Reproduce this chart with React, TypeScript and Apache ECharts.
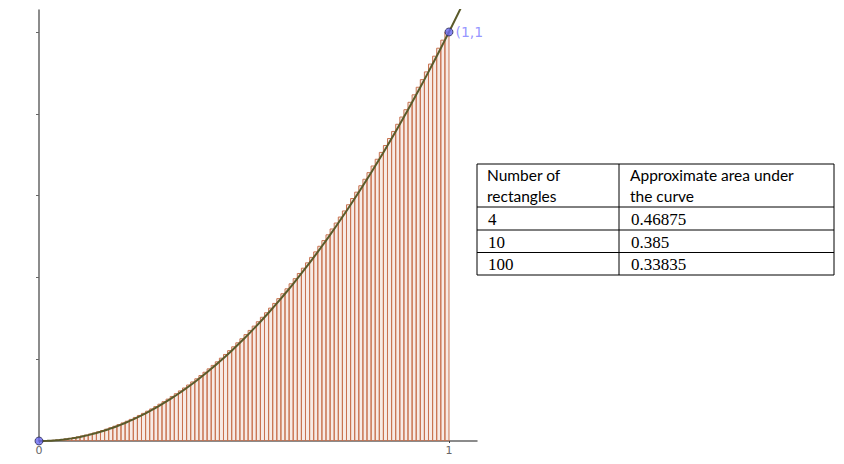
import React, { useEffect, useRef } from "react";
import * as echarts from "echarts";

// Right endpoints of the 100 rectangles on [0, 1]
const rectRight = [
  0.01, 0.02, 0.03, 0.04, 0.05, 0.06, 0.07, 0.08, 0.09, 0.1,
  0.11, 0.12, 0.13, 0.14, 0.15, 0.16, 0.17, 0.18, 0.19, 0.2,
  0.21, 0.22, 0.23, 0.24, 0.25, 0.26, 0.27, 0.28, 0.29, 0.3,
  0.31, 0.32, 0.33, 0.34, 0.35, 0.36, 0.37, 0.38, 0.39, 0.4,
  0.41, 0.42, 0.43, 0.44, 0.45, 0.46, 0.47, 0.48, 0.49, 0.5,
  0.51, 0.52, 0.53, 0.54, 0.55, 0.56, 0.57, 0.58, 0.59, 0.6,
  0.61, 0.62, 0.63, 0.64, 0.65, 0.66, 0.67, 0.68, 0.69, 0.7,
  0.71, 0.72, 0.73, 0.74, 0.75, 0.76, 0.77, 0.78, 0.79, 0.8,
  0.81, 0.82, 0.83, 0.84, 0.85, 0.86, 0.87, 0.88, 0.89, 0.9,
  0.91, 0.92, 0.93, 0.94, 0.95, 0.96, 0.97, 0.98, 0.99, 1.0,
];

// Heights of the rectangles (right-endpoint heights of y = x²)
const rectHeight = [
  0.0001, 0.0004, 0.0009, 0.0016, 0.0025, 0.0036, 0.0049, 0.0064, 0.0081, 0.01,
  0.0121, 0.0144, 0.0169, 0.0196, 0.0225, 0.0256, 0.0289, 0.0324, 0.0361, 0.04,
  0.0441, 0.0484, 0.0529, 0.0576, 0.0625, 0.0676, 0.0729, 0.0784, 0.0841, 0.09,
  0.0961, 0.1024, 0.1089, 0.1156, 0.1225, 0.1296, 0.1369, 0.1444, 0.1521, 0.16,
  0.1681, 0.1764, 0.1849, 0.1936, 0.2025, 0.2116, 0.2209, 0.2304, 0.2401, 0.25,
  0.2601, 0.2704, 0.2809, 0.2916, 0.3025, 0.3136, 0.3249, 0.3364, 0.3481, 0.36,
  0.3721, 0.3844, 0.3969, 0.4096, 0.4225, 0.4356, 0.4489, 0.4624, 0.4761, 0.49,
  0.5041, 0.5184, 0.5329, 0.5476, 0.5625, 0.5776, 0.5929, 0.6084, 0.6241, 0.64,
  0.6561, 0.6724, 0.6889, 0.7056, 0.7225, 0.7396, 0.7569, 0.7744, 0.7921, 0.81,
  0.8281, 0.8464, 0.8649, 0.8836, 0.9025, 0.9216, 0.9409, 0.9604, 0.9801, 1.0,
];

// Curve continues a little past (1,1) until it leaves the plot
const curveExtraX = [1.03];
const curveExtraY = [1.0609];

const pointsX = [0, 1];
const pointsY = [0, 1];
const pointLabels = ["", "(1,1"];

const yTicks = [0.2, 0.4, 0.6, 0.8, 1.0];
const xTickLabels = [0, 1];

const tableHeader = [
  ["Number of", "rectangles"],
  ["Approximate area under", "the curve"],
];
const tableRects = ["4", "10", "100"];
const tableAreas = ["0.46875", "0.385", "0.33835"];

export default function App() {
  const ref = useRef<HTMLDivElement>(null);

  useEffect(() => {
    if (!ref.current) return;
    const chart = echarts.init(ref.current, undefined, { renderer: "svg" });

    const step = 1 / rectRight.length;
    const rectData = rectRight.map((x, i) => [x, rectHeight[i]]);
    const curveData = [[0, 0], ...rectData, ...curveExtraX.map((x, i) => [x, curveExtraY[i]])];
    const pointData = pointsX.map((x, i) => ({
      value: [x, pointsY[i]],
      label: { show: pointLabels[i] !== "", formatter: pointLabels[i] },
    }));

    // Table geometry
    const tL = 477, tR = 834, tT = 164, colX = 619;
    const rowLines = [164, 207, 230, 252.5, 275];
    const graphics: any[] = [];
    graphics.push({
      type: "rect",
      shape: { x: tL, y: tT, width: tR - tL, height: rowLines[4] - tT },
      style: { fill: "#fff", stroke: "#000", lineWidth: 1 },
      z: 100,
    });
    for (let i = 1; i < 4; i++) {
      graphics.push({
        type: "line",
        shape: { x1: tL, y1: rowLines[i], x2: tR, y2: rowLines[i] },
        style: { stroke: "#000", lineWidth: 1 },
        z: 101,
      });
    }
    graphics.push({
      type: "line",
      shape: { x1: colX, y1: tT, x2: colX, y2: rowLines[4] },
      style: { stroke: "#000", lineWidth: 1 },
      z: 101,
    });
    const headerX = [487, 630];
    tableHeader.forEach((lines, c) => {
      lines.forEach((t, k) => {
        graphics.push({
          type: "text",
          x: headerX[c],
          y: 174.5 + k * 21.5,
          style: {
            text: t,
            fill: "#000",
            fontSize: 15.5,
            fontFamily: "Lato",
            verticalAlign: "middle",
          },
          z: 102,
        });
      });
    });

    // Numeric cells drawn as title components (serif)
    const rowCenters = [219.5, 242, 264];
    const cellTitles: any[] = [];
    const cellStyle = {
      color: "#000",
      fontSize: 17,
      fontWeight: "normal",
      fontFamily: "Times New Roman",
      lineHeight: 18,
    };
    tableRects.forEach((t, i) => {
      cellTitles.push({
        text: t,
        left: 488,
        top: rowCenters[i] - 9,
        padding: 0,
        z: 110,
        textStyle: cellStyle,
      });
      cellTitles.push({
        text: tableAreas[i],
        left: 631,
        top: rowCenters[i] - 9,
        padding: 0,
        z: 110,
        textStyle: cellStyle,
      });
    });

    chart.setOption({
      animation: false,
      backgroundColor: "#fff",
      title: cellTitles,
      grid: { left: 39, right: 367, top: 10, bottom: 23, containLabel: false },
      xAxis: {
        type: "value",
        min: 0,
        max: 1.0683,
        splitLine: { show: false },
        axisLine: { show: true, onZero: true, lineStyle: { color: "#666", width: 1.5 } },
        axisTick: { show: true, customValues: xTickLabels, length: 2, lineStyle: { color: "#444" } },
        axisLabel: {
          show: true,
          customValues: xTickLabels,
          color: "#666",
          fontSize: 11,
          fontFamily: "DejaVu Sans",
          margin: 4,
        },
      },
      yAxis: {
        type: "value",
        min: 0,
        max: 1.0538,
        splitLine: { show: false },
        axisLine: { show: true, onZero: true, lineStyle: { color: "#666", width: 1.5 } },
        axisTick: {
          show: true,
          customValues: yTicks,
          length: 3,
          inside: false,
          lineStyle: { color: "#666", width: 1 },
        },
        axisLabel: { show: false },
      },
      series: [
        {
          type: "custom",
          data: rectData,
          clip: true,
          renderItem: (params: any, api: any) => {
            const x = api.value(0);
            const h = api.value(1);
            const p0 = api.coord([x - step, 0]);
            const p1 = api.coord([x, h]);
            return {
              type: "rect",
              shape: { x: p0[0], y: p1[1], width: p1[0] - p0[0], height: p0[1] - p1[1] },
              style: {
                fill: "rgba(200, 110, 80, 0.14)",
                stroke: "#c87350",
                lineWidth: 1,
              },
            };
          },
          z: 2,
        },
        {
          type: "line",
          data: curveData,
          showSymbol: false,
          clip: true,
          lineStyle: { color: "#5a5a2a", width: 2 },
          z: 3,
        },
        {
          type: "scatter",
          data: pointData,
          symbolSize: 8,
          itemStyle: { color: "#6868f0", borderColor: "#2a2a50", borderWidth: 1 },
          label: {
            position: "right",
            distance: 2,
            color: "#7a7aff",
            fontSize: 14,
            fontFamily: "DejaVu Sans",
          },
          clip: false,
          z: 4,
        },
      ],
      graphic: graphics,
    });

    return () => chart.dispose();
  }, []);

  return (
    <div
      ref={ref}
      style={{ position: "absolute", left: 0, top: 0, width: 844, height: 464 }}
    />
  );
}
